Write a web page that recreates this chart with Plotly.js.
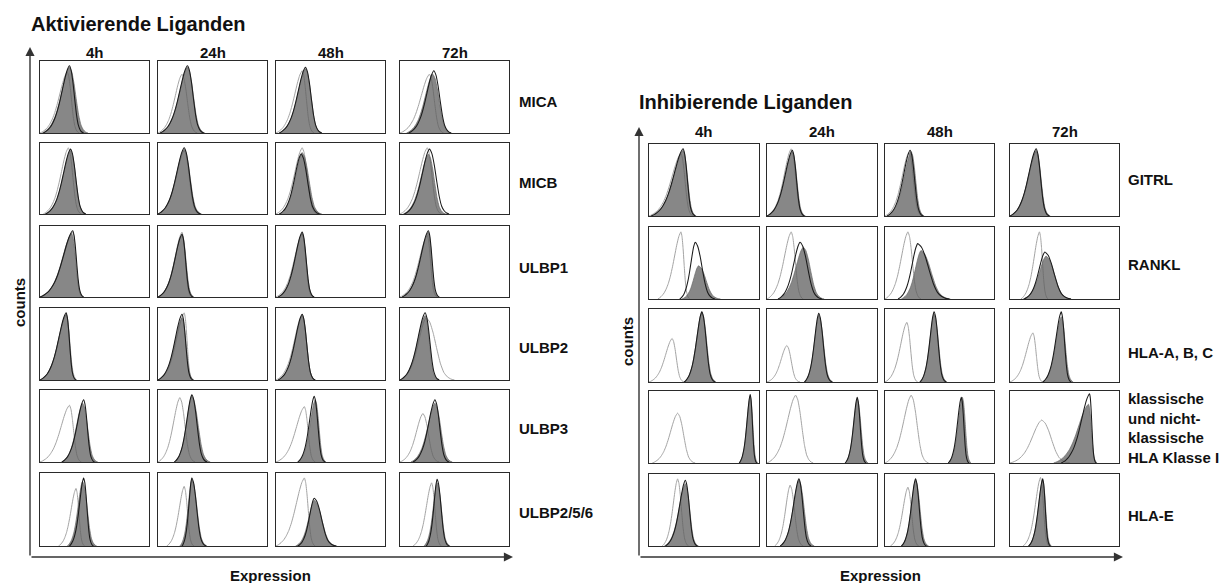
<!DOCTYPE html>
<html><head><meta charset="utf-8">
<script src="https://cdn.plot.ly/plotly-3.0.1.min.js"></script>
<style>html,body{margin:0;padding:0;background:#fff}#chart{width:1229px;height:583px}</style>
</head><body><div id="chart"></div>
<script>
// ---------------- DATA ----------------
const timepoints = ["4h", "24h", "48h", "72h"];
const leftRowLabels = ["MICA", "MICB", "ULBP1", "ULBP2", "ULBP3", "ULBP2/5/6"];
const rightRowLabels = ["GITRL", "RANKL", "HLA-A, B, C", "klassische<br>und nicht-<br>klassische<br>HLA Klasse I", "HLA-E"];

// Histogram shape: rise (foot -> peak) and fall (peak -> foot), relative counts
const profileRise = [0, 0.02, 0.05, 0.09, 0.15, 0.23, 0.34, 0.48, 0.64, 0.8, 0.93, 1.0];
const profileFall = [1.0, 0.93, 0.75, 0.5, 0.27, 0.12, 0.05, 0.015, 0];

// each entry: [peak expression, left foot, right foot, relative peak count]
const leftFilled = [
  [[.27,.02,.44,.95],[.27,.02,.43,.95],[.27,.03,.42,.93],[.30,.06,.47,.85]],
  [[.28,.05,.42,.93],[.24,.00,.40,.95],[.24,.03,.42,.90],[.26,.03,.42,.88]],
  [[.29,.00,.40,.93],[.22,.00,.33,.92],[.24,.02,.35,.93],[.26,.02,.35,.95]],
  [[.24,.00,.33,.95],[.22,.00,.33,.90],[.24,.02,.36,.93],[.23,.00,.35,.93]],
  [[.39,.20,.53,.85],[.31,.15,.48,.95],[.36,.20,.46,.90],[.32,.10,.48,.85]],
  [[.39,.25,.52,.92],[.31,.20,.45,.95],[.35,.18,.56,.65],[.34,.22,.46,.90]]
];
const leftBlack = [
  [[.27,.03,.40,.97],[.27,.02,.42,.97],[.27,.03,.42,.95],[.31,.08,.47,.90]],
  [[.28,.05,.42,.95],[.24,.00,.39,.97],[.23,.03,.40,.88],[.27,.04,.45,.95]],
  [[.30,.00,.40,.97],[.22,.00,.32,.92],[.24,.02,.35,.95],[.26,.02,.36,.97]],
  [[.24,.00,.33,.97],[.22,.00,.32,.95],[.24,.02,.36,.95],[.23,.00,.36,.97]],
  [[.40,.20,.50,.90],[.31,.15,.45,.97],[.35,.20,.45,.95],[.32,.12,.45,.90]],
  [[.40,.27,.49,.97],[.31,.22,.44,.97],[.35,.20,.55,.68],[.34,.24,.45,.95]]
];
const leftIso = [
  [[.25,.00,.36,.88],[.22,.00,.36,.85],[.24,.00,.35,.90],[.27,.00,.40,.85]],
  [[.26,.03,.38,.97],[.24,.00,.38,.93],[.24,.00,.38,.97],[.25,.00,.38,.97]],
  [[.30,.00,.39,.95],[.22,.00,.31,.95],[.24,.00,.34,.93],[.25,.00,.34,.90]],
  [[.24,.00,.34,.95],[.24,.00,.32,.97],[.24,.00,.36,.95],[.24,.00,.50,.90]],
  [[.27,.00,.38,.82],[.20,.00,.34,.93],[.26,.00,.36,.80],[.21,.00,.36,.70]],
  [[.33,.17,.41,.82],[.24,.08,.33,.85],[.26,.00,.36,.97],[.29,.12,.38,.90]]
];
const rightFilled = [
  [[.31,.02,.43,.95],[.23,.00,.35,.93],[.24,.02,.36,.93],[.24,.00,.37,.95]],
  [[.45,.30,.65,.48],[.33,.10,.52,.75],[.33,.15,.60,.70],[.33,.12,.56,.62]],
  [[.48,.32,.61,1.0],[.47,.34,.60,.95],[.45,.32,.57,.97],[.47,.30,.58,.93]],
  [[.92,.82,.99,.97],[.82,.71,.92,.92],[.71,.58,.79,.95],[.72,.40,.80,.85]],
  [[.33,.14,.45,.90],[.29,.12,.43,.95],[.28,.15,.40,.95],[.30,.17,.38,.95]]
];
const rightBlack = [
  [[.31,.02,.42,.97],[.23,.00,.34,.95],[.23,.02,.35,.95],[.24,.00,.36,.97]],
  [[.42,.28,.60,.82],[.30,.10,.50,.82],[.30,.12,.59,.80],[.32,.13,.56,.68]],
  [[.48,.32,.60,1.0],[.47,.34,.59,.98],[.45,.32,.56,1.0],[.47,.30,.56,1.0]],
  [[.92,.82,.98,.99],[.82,.71,.90,.95],[.70,.58,.77,.95],[.73,.47,.79,1.0]],
  [[.33,.15,.44,.95],[.29,.12,.40,.97],[.28,.15,.38,.97],[.30,.17,.37,.97]]
];
const rightIso = [
  [[.29,.00,.40,.90],[.22,.00,.34,.97],[.22,.00,.34,.92],[.24,.00,.36,.93]],
  [[.29,.08,.37,.97],[.22,.00,.33,.97],[.21,.00,.33,.97],[.27,.10,.35,.97]],
  [[.21,.00,.32,.62],[.18,.00,.30,.52],[.20,.00,.30,.85],[.21,.00,.30,.70]],
  [[.26,.03,.42,.72],[.26,.00,.42,.98],[.24,.00,.40,.98],[.29,.00,.55,.62]],
  [[.26,.12,.36,.97],[.21,.07,.33,.88],[.21,.05,.31,.85],[.28,.12,.36,.99]]
];

// ---------------- LAYOUT GEOMETRY (pixels) ----------------
const W = 1229, H = 583;
const px = x => x / W, py = y => 1 - y / H;
const leftCols = [[40,149],[158,267],[276,385],[400,509]];
const leftRowsY = [[61,133],[143,214],[226,297],[308,380],[390,462],[473,546]];
const rightCols = [[649,759],[767,877],[885,994],[1010,1119]];
const rightRowsY = [[144,216],[227,299],[309,382],[391,463],[474,546]];

function curve(p) {
  const [pk, L, R, h] = p;
  const xs = [], ys = [];
  const n = profileRise.length, m = profileFall.length;
  for (let i = 0; i < n; i++) { xs.push(L + (pk - L) * i / (n - 1)); ys.push(h * profileRise[i]); }
  for (let j = 1; j < m; j++) { xs.push(pk + (R - pk) * j / (m - 1)); ys.push(h * profileFall[j]); }
  return {xs, ys};
}

const traces = [];
const layout = {
  width: W, height: H, margin: {l:0, r:0, t:0, b:0},
  paper_bgcolor: '#fff', plot_bgcolor: '#fff', showlegend: false,
  font: {family: 'Liberation Sans, Arial, sans-serif', color: '#111'},
  annotations: [], shapes: []
};
let ax = 0;
function addPanel(cols, rowsY, filled, black, iso) {
  for (let r = 0; r < rowsY.length; r++) {
    for (let c = 0; c < cols.length; c++) {
      ax++;
      const xn = ax === 1 ? 'xaxis' : 'xaxis' + ax, yn = ax === 1 ? 'yaxis' : 'yaxis' + ax;
      const xr = ax === 1 ? 'x' : 'x' + ax, yr = ax === 1 ? 'y' : 'y' + ax;
      const common = {showline: true, mirror: true, linecolor: '#2a2a2a', linewidth: 1.3,
        showgrid: false, zeroline: false, showticklabels: false, ticks: '', fixedrange: true};
      layout[xn] = Object.assign({domain: [px(cols[c][0]), px(cols[c][1])], range: [0, 1], anchor: yr}, common);
      layout[yn] = Object.assign({domain: [py(rowsY[r][1]), py(rowsY[r][0])], range: [0, 1.04], anchor: xr}, common);
      const ci = curve(iso[r][c]), cf = curve(filled[r][c]), cb = curve(black[r][c]);
      traces.push({x: ci.xs, y: ci.ys, xaxis: xr, yaxis: yr, type: 'scatter', mode: 'lines',
        line: {color: '#a4a4a4', width: 1, shape: 'spline', smoothing: 0.5}, hoverinfo: 'skip'});
      traces.push({x: cf.xs, y: cf.ys, xaxis: xr, yaxis: yr, type: 'scatter', mode: 'lines', fill: 'tozeroy',
        fillcolor: 'rgba(95,95,95,0.75)', line: {color: 'rgba(105,105,105,0.9)', width: 0.8, shape: 'spline', smoothing: 0.5}, hoverinfo: 'skip'});
      traces.push({x: cb.xs, y: cb.ys, xaxis: xr, yaxis: yr, type: 'scatter', mode: 'lines',
        line: {color: '#1a1a1a', width: 1.05, shape: 'spline', smoothing: 0.5}, hoverinfo: 'skip'});
    }
  }
}
addPanel(leftCols, leftRowsY, leftFilled, leftBlack, leftIso);
addPanel(rightCols, rightRowsY, rightFilled, rightBlack, rightIso);

const A = layout.annotations;
function txt(text, x, y, size, opts) {
  A.push(Object.assign({text: '<b>' + text + '</b>', x: px(x), y: py(y), xref: 'paper', yref: 'paper',
    showarrow: false, font: {size: size, color: '#111'}, xanchor: 'center', yanchor: 'middle'}, opts || {}));
}
txt('Aktivierende Liganden', 29, 24, 20, {xanchor: 'left'});
txt('Inhibierende Liganden', 637, 102, 20, {xanchor: 'left'});
timepoints.forEach((t, i) => {
  txt(t, (leftCols[i][0] + leftCols[i][1]) / 2, 52, 15);
  txt(t, (rightCols[i][0] + rightCols[i][1]) / 2, 132, 15);
});
const leftLabelY = [102, 182, 267, 347, 429, 512];
leftRowLabels.forEach((l, i) => txt(l, 517, leftLabelY[i], 15, {xanchor: 'left'}));
const rightLabelY = [179, 264, 352, 428, 515];
rightRowLabels.forEach((l, i) => txt(l.split('<br>').join('</b><br><b>'), 1126, rightLabelY[i], 15, {xanchor: 'left', align: 'left'}));
txt('counts', 19, 303, 15, {textangle: -90});
txt('counts', 627, 342, 15, {textangle: -90});
txt('Expression', 270, 575, 15);
txt('Expression', 880, 575, 15);

function arrow(hx, hy, tx, ty) {
  A.push({x: px(hx), y: py(hy), xref: 'paper', yref: 'paper', text: '', showarrow: true,
    axref: 'pixel', ayref: 'pixel', ax: tx - hx, ay: ty - hy,
    arrowhead: 2, arrowsize: 1.3, arrowwidth: 1.4, arrowcolor: '#333', standoff: 0, startstandoff: 0});
}
arrow(30, 47, 30, 557);
arrow(513, 557, 30, 557);
arrow(639, 127, 639, 557);
arrow(1123, 557, 639, 557);

Plotly.newPlot('chart', traces, layout, {staticPlot: true, displayModeBar: false});
</script>
</body></html>
